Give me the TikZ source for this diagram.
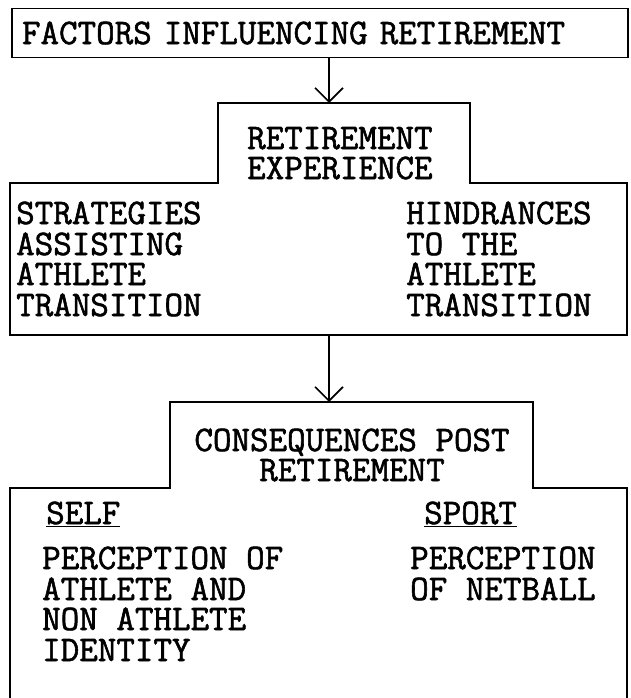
\documentclass[tikz,border=0pt]{standalone}
\usepackage{fontspec}
\newfontfamily\typer{Latin Modern Mono}[FakeBold=1.6]
\usetikzlibrary{arrows.meta}
\begin{document}
\begin{tikzpicture}[x=1pt, y=-1pt,
  line/.style={line width=1.6pt, line join=miter},
  txt/.style={inner sep=0pt, anchor=base west, font=\fontsize{36}{30.5}\selectfont\typer},
  arr/.style={line width=1.6pt, -{Straight Barb[length=14pt, width=28pt, line width=1.6pt]}}]
\useasboundingbox (0,0) rectangle (631,698);
\node[line, draw, txt, anchor=center, minimum width=616pt, minimum height=49pt, inner xsep=10pt, text width=596pt] (factors) at (320,33) {FACTORS INFLUENCING RETIREMENT};
\coordinate (exptop) at (329,103);
\coordinate (expbot) at (329,335);
\coordinate (constop) at (329,402);
\draw[line] (218,183) -- (218,103) -- (470,103) -- (470,183) -- (627,183) -- (627,335) -- (10,335) -- (10,183) -- cycle;
\draw[line] (10,698) -- (10,488) -- (170,488) -- (170,402) -- (533,402) -- (533,488) -- (627,488) -- (627,698);
\node[txt] (exper1) at (247,149) {RETIREMENT};
\node[txt] (exper2) at (247,179) {EXPERIENCE};
\node[txt] (strat1) at (16,224) {STRATEGIES};
\node[txt] (strat2) at (16,255) {ASSISTING};
\node[txt] (strat3) at (16,285) {ATHLETE};
\node[txt] (strat4) at (16,316) {TRANSITION};
\node[txt] (hindr1) at (406,224) {HINDRANCES};
\node[txt] (hindr2) at (406,255) {TO THE};
\node[txt] (hindr3) at (406,285) {ATHLETE};
\node[txt] (hindr4) at (406,316) {TRANSITION};
\node[txt, anchor=base] (conseq1) at (352,451) {CONSEQUENCES POST};
\node[txt, anchor=base] (conseq2) at (352,481) {RETIREMENT};
\node[txt] (self) at (46,524) {\underline{SELF}};
\node[txt] (sport) at (424,524) {\underline{SPORT}};
\node[txt] (selfperc1) at (42,569) {PERCEPTION OF};
\node[txt] (selfperc2) at (42,600) {ATHLETE AND};
\node[txt] (selfperc3) at (42,630) {NON ATHLETE};
\node[txt] (selfperc4) at (42,661) {IDENTITY};
\node[txt] (sportperc1) at (410,569) {PERCEPTION};
\node[txt] (sportperc2) at (410,600) {OF NETBALL};
\draw[arr] (factors.south -| exptop) -- (exptop);
\draw[arr] (expbot) -- (constop);
\end{tikzpicture}
\end{document}
